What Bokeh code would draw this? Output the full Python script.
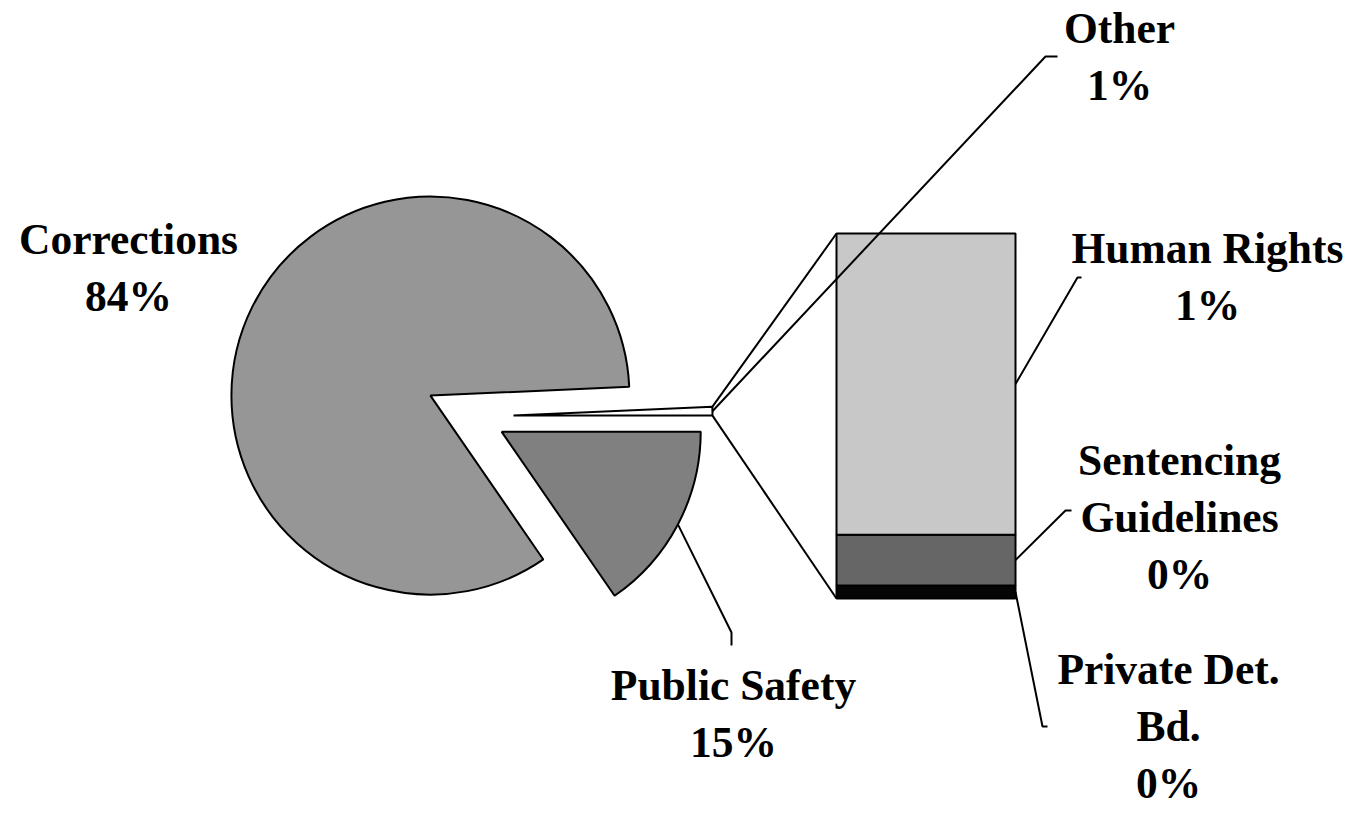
import numpy as np
from bokeh.plotting import figure
from bokeh.models import Range1d, ColumnDataSource
from bokeh.embed import file_html
from bokeh.resources import INLINE
from bokeh.core.properties import value

# ---------------- data ----------------
pie_categories = ["Corrections", "Public Safety"]
pie_values = [83.9, 15.4]
other_name = "Other"
bar_categories = ["Private Det. Bd.", "Sentencing Guidelines", "Human Rights"]  # bottom -> top
bar_values = [0.025, 0.098, 0.58]
label_lines = {
    "Corrections": ["Corrections"],
    "Public Safety": ["Public Safety"],
    "Other": ["Other"],
    "Human Rights": ["Human Rights"],
    "Sentencing Guidelines": ["Sentencing", "Guidelines"],
    "Private Det. Bd.": ["Private Det.", "Bd."],
}

# ---------------- layout / style ----------------
W, H = 1345, 808
PAGE_H = 824
def Y(y):  # reference y (down) -> data Y (up)
    return PAGE_H - y

FONT = "Liberation Serif"
FSIZE = "43.5px"
LINE_SP = 57
TEXT_DY = -16  # compensation for rendered baseline offset
pie_cx, pie_cy, radius = 472, Y(416), 199
explode = {"Other": 41, "Corrections": 47, "Public Safety": 33}
pie_fill = {"Other": "#ffffff", "Corrections": "#969696", "Public Safety": "#808080"}
bar_fill = {"Private Det. Bd.": "#050505", "Sentencing Guidelines": "#666666", "Human Rights": "#c8c8c8"}
bar_left, bar_right, bar_bottom, bar_top = 836, 1015, Y(598), Y(233)
OUT = "#000000"
LW = 2

label_pos = {  # centre x, first baseline (reference y)
    "Corrections": (128, 254),
    "Public Safety": (733, 700),
    "Other": (1119, 43),
    "Human Rights": (1207, 263),
    "Sentencing Guidelines": (1179, 475),
    "Private Det. Bd.": (1168, 684),
}
leader_elbow = {  # elbow, end (reference coords)
    "Public Safety": [(731, 632), (731, 645)],
    "Other": [(1045, 56), (1057, 56)],
    "Human Rights": [(1077, 277), (1081, 277)],
    "Sentencing Guidelines": [(1065, 510), (1071, 510)],
    "Private Det. Bd.": [(1042, 726), (1047, 726)],
}

p = figure(width=W, height=H, output_backend="svg", toolbar_location=None,
           x_range=Range1d(0, W), y_range=Range1d(PAGE_H - H, PAGE_H),
           min_border=0, outline_line_color=None)
p.axis.visible = False
p.grid.visible = False
p.background_fill_color = "white"
p.border_fill_color = "white"

# ---------------- pie ----------------
other_value = float(np.sum(bar_values))
names = [other_name] + pie_categories
vals = np.array([other_value] + pie_values, dtype=float)
total = vals.sum()
angles = vals / total * 2 * np.pi
ends = np.cumsum(angles)
starts = ends - angles
mids = (starts + ends) / 2
apex = {}
for n, s, e, m in zip(names, starts, ends, mids):
    ax = pie_cx + explode[n] * np.cos(m)
    ay = pie_cy + explode[n] * np.sin(m)
    apex[n] = (ax, ay, s, e, m)

order = ["Corrections", "Public Safety", "Other"]
src = ColumnDataSource(dict(
    x=[apex[n][0] for n in order], y=[apex[n][1] for n in order],
    s=[apex[n][2] for n in order], e=[apex[n][3] for n in order],
    c=[pie_fill[n] for n in order]))
p.wedge(x="x", y="y", radius=radius, start_angle="s", end_angle="e",
        fill_color="c", line_color=OUT, line_width=LW, source=src)

# ---------------- bar ----------------
bv = np.array(bar_values, dtype=float)
hts = bv / bv.sum() * (bar_top - bar_bottom)
tops = bar_bottom + np.cumsum(hts)
bots = tops - hts
bsrc = ColumnDataSource(dict(left=[bar_left] * len(bv), right=[bar_right] * len(bv),
                             bottom=bots, top=tops,
                             c=[bar_fill[n] for n in bar_categories]))
p.quad(left="left", right="right", bottom="bottom", top="top", fill_color="c",
       line_color=OUT, line_width=LW, source=bsrc)

# connector lines from Other slice to bar
ox, oy, os_, oe, om = apex["Other"]
p.segment(x0=[ox + radius * np.cos(oe), ox + radius * np.cos(os_)],
          y0=[oy + radius * np.sin(oe), oy + radius * np.sin(os_)],
          x1=[bar_left, bar_left], y1=[bar_top, bar_bottom],
          line_color=OUT, line_width=LW)

# ---------------- leaders ----------------
starts_pts = {}
for n in ["Public Safety", "Other"]:
    ax, ay, s, e, m = apex[n]
    starts_pts[n] = (ax + radius * np.cos(m), ay + radius * np.sin(m))
for n, b, t in zip(bar_categories, bots, tops):
    starts_pts[n] = (bar_right, (b + t) / 2)
xs, ys = [], []
for n, pts in leader_elbow.items():
    sx, sy = starts_pts[n]
    xs.append([sx] + [q[0] for q in pts])
    ys.append([sy] + [Y(q[1]) for q in pts])
p.multi_line(xs=xs, ys=ys, line_color=OUT, line_width=LW)

# ---------------- labels ----------------
pct = {n: v / total * 100 for n, v in zip(names, vals)}
for n, v in zip(bar_categories, bv):
    pct[n] = v / total * 100
tx, ty, tt = [], [], []
for n, lines in label_lines.items():
    cx, by = label_pos[n]
    allines = lines + [f"{int(round(pct[n]))}%"]
    for i, ln in enumerate(allines):
        tx.append(cx)
        ty.append(Y(by + i * LINE_SP + TEXT_DY))
        tt.append(ln)
p.text(x=tx, y=ty, text=tt, text_align="center", text_baseline="alphabetic",
       text_font=value(FONT), text_font_style="bold", text_font_size=FSIZE,
       text_color="#000000")

open("out.html", "w").write(file_html(p, INLINE))
